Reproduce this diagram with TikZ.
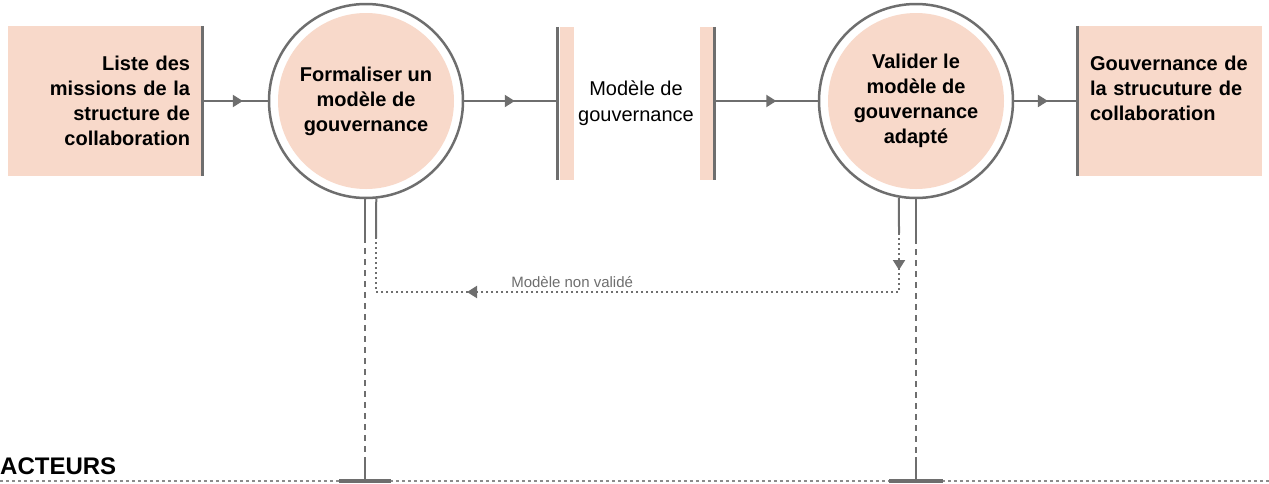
\documentclass[tikz,border=0pt]{standalone}
\usepackage{fontspec}
\setmainfont{Liberation Sans}
\usepackage{xcolor}
\usetikzlibrary{arrows.meta,positioning,calc,decorations.markings}
\definecolor{peach}{HTML}{F8D9CA}
\definecolor{railgray}{HTML}{6E6E6E}

\begin{document}
\begin{tikzpicture}[
x=1pt,y=-1pt,
store/.style={rectangle, fill=peach, minimum width=194pt, minimum height=150pt, inner xsep=12pt, text width=170pt, text=black, font=\bfseries\fontsize{20}{25}\selectfont},
task/.style={circle, draw=railgray, line width=2.5pt, fill=white, minimum size=194pt, align=center, text=black, font=\bfseries\fontsize{20}{25}\selectfont,
  path picture={\fill[peach] (path picture bounding box.center) circle (88pt);}},
docstore/.style={rectangle, minimum width=156pt, minimum height=153pt, align=center, text=black, font=\fontsize{20}{26}\selectfont},
edge/.style={railgray, line width=3pt},
rail/.style={railgray, line width=2pt},
flow/.style={railgray, line width=2pt, postaction={decorate},
  decoration={markings, mark=at position #1 with {\arrow{Triangle[length=10pt,width=12pt]}}}},
flow/.default=0.57,
loopback/.style={railgray, line width=2pt, dash pattern=on 2pt off 3pt, postaction={decorate},
  decoration={markings, mark=at position 37pt with {\arrow{Triangle[length=10pt,width=12pt]}},
    mark=at position 491pt with {\arrow{Triangle[length=10pt,width=12pt]}}}},
tee/.style={railgray, line width=4pt},
sep/.style={railgray!80, line width=1.5pt, dash pattern=on 3pt off 3pt},
note/.style={font=\fontsize{15}{18}\selectfont, text=railgray, inner sep=3pt}
]
\useasboundingbox (0,0) rectangle (1269,483);

\node[store, align=right] (missions) at (105,101) {Liste des\\missions de la\\structure de\\collaboration};
\node[task] (formaliser) at (366,101) {Formaliser un\\mod\`ele de\\gouvernance};
\node[docstore] (modele) at (636,103.5) {Mod\`ele de\\gouvernance};
\node[task] (valider) at (916,101) {Valider le\\mod\`ele de\\gouvernance\\adapt\'e};
\node[store, minimum width=184pt, text width=160pt, align=left] (gouv) at (1170,101) {Gouvernance de\\la strucuture de\\collaboration\\\mbox{}};

\draw[edge] (missions.north east) -- (missions.south east);
\draw[edge] (gouv.north west) -- (gouv.south west);
\fill[peach] ($(modele.north west)+(2,0)$) rectangle ($(modele.south west)+(16,0)$);
\fill[peach] ($(modele.north east)+(-14,0)$) rectangle ($(modele.south east)+(-1,0)$);
\draw[edge] (modele.north west) -- (modele.south west);
\draw[edge] (modele.north east) -- (modele.south east);

\draw[flow=0.62] (missions.east) -- (formaliser.west);
\draw[flow=0.54] (formaliser.east) -- (formaliser.east -| modele.west);
\draw[flow=0.6] (modele.east |- valider) -- (valider.west);
\draw[flow=0.53] (valider.east) -- (valider.east -| gouv.west);

% retour si le modele n'est pas valide
\coordinate (fbA) at (899,233);
\coordinate (fbB) at (899,292);
\coordinate (fbC) at (376,292);
\coordinate (fbD) at (376,238);
\draw[rail] (valider.-100) -- (fbA);
\draw[rail] (formaliser.-84) -- (fbD);
\draw[loopback] (fbA) -- (fbB) -- node[note, pos=0.625, above] {Mod\`ele non valid\'e} (fbC) -- (fbD);

% acteurs
\coordinate (sepL) at (0,481);
\coordinate (sepR) at (1269,481);
\coordinate (a1top) at (365,241);
\coordinate (a1bot) at (365,457);
\coordinate (act1) at (365,481);
\coordinate (a2top) at (916,242);
\coordinate (a2bot) at (916,457);
\coordinate (act2) at (916,481);
\draw[sep] (sepL) -- (sepR);
\draw[rail] (formaliser.south -| act1) -- (a1top);
\draw[rail, dash pattern=on 6pt off 5pt] ([yshift=4pt]a1top) -- (a1bot);
\draw[rail] (a1bot) -- (act1);
\draw[rail] (valider.south) -- (a2top);
\draw[rail, dash pattern=on 6pt off 5pt] ([yshift=4pt]a2top) -- (a2bot);
\draw[rail] (a2bot) -- (act2);
\draw[tee] ([xshift=-26pt]act1) -- ([xshift=26pt]act1);
\draw[tee] ([xshift=-27pt]act2) -- ([xshift=27pt]act2);

\node[anchor=west, inner sep=0pt, font=\bfseries\fontsize{24}{28}\selectfont] (acteurs) at (0,466) {ACTEURS};
\end{tikzpicture}
\end{document}
